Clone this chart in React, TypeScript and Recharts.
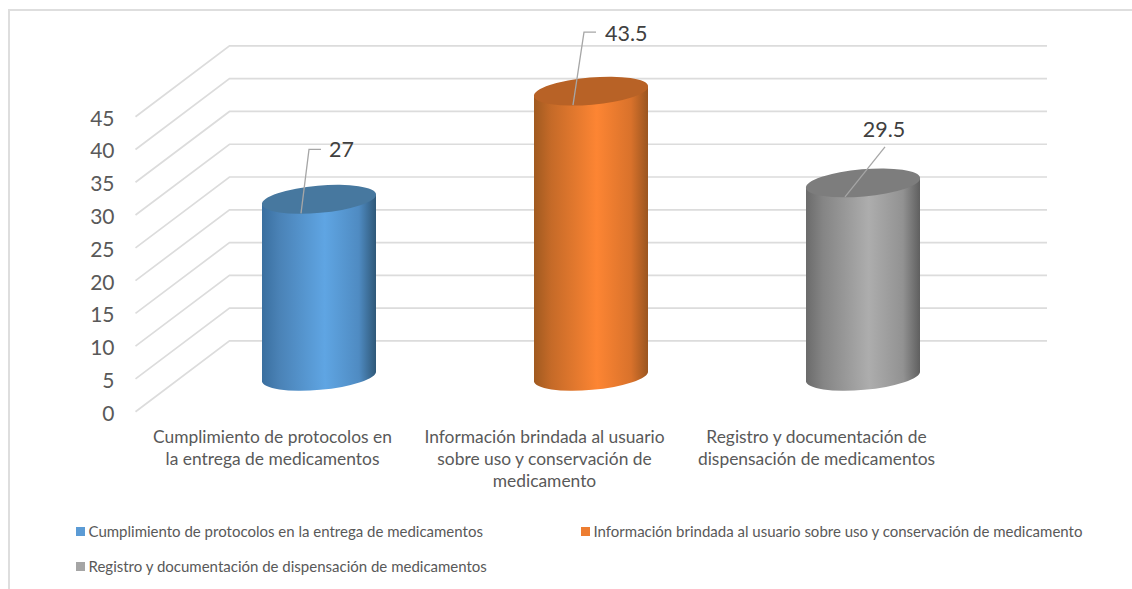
import React from "react";
import {
  Bar,
  BarChart,
  CartesianGrid,
  LabelList,
  Legend,
  XAxis,
  YAxis,
} from "recharts";

const categories = [
  "Cumplimiento de protocolos en la entrega de medicamentos",
  "Información brindada al usuario sobre uso y conservación de medicamento",
  "Registro y documentación de dispensación de medicamentos",
];
const categoryLines = [
  ["Cumplimiento de protocolos en", "la entrega de medicamentos"],
  ["Información brindada al usuario", "sobre uso y conservación de", "medicamento"],
  ["Registro y documentación de", "dispensación de medicamentos"],
];
const values = [27, 43.5, 29.5];
const yTicks = [0, 5, 10, 15, 20, 25, 30, 35, 40, 45];

const rows = categories.map((name, i) => ({ name, value: values[i] }));

// Colours of each cylinder: side gradient stops, lid, legend swatch.
const palettes = [
  { id: "cylBlue", stops: ["#3a6f9f", "#4a82b6", "#5fa5e3", "#4f8bc2", "#2f5878"], lid: "#47789f", swatch: "#5b9bd5" },
  { id: "cylOrange", stops: ["#a05a20", "#c56a28", "#fd8533", "#d9722b", "#9a5520"], lid: "#b86226", swatch: "#ed7d31" },
  { id: "cylGray", stops: ["#6b6b6b", "#858585", "#adadad", "#929292", "#5f5f5f"], lid: "#7d7d7d", swatch: "#a5a5a5" },
];
const stopOffsets = ["0%", "15%", "55%", "85%", "100%"];

// Leader offsets from the lid centre: foot, elbow, end and text anchor.
const callouts = [
  { foot: [-18, 14], elbow: [-10, -50], end: [2, -50], text: [10, -50], anchor: "start" },
  { foot: [-18, 14], elbow: [-7, -59], end: [5, -59], text: [14, -58], anchor: "start" },
  { foot: [-18, 14], elbow: [22, -36], end: [22, -36], text: [21, -54], anchor: "middle" },
];

// Depth of the 3D floor, relative to the plane holding the cylinders.
const FRONT = { dx: -47.5, dy: 35.4 };
const BACK = { dx: 46.5, dy: -35.4 };
const WALL_RIGHT = 1047;
const INK = "#595959";
const FONT = "Lato, sans-serif";

function GridLine(props: any) {
  const { x1, y1 } = props;
  return (
    <polyline
      key={props.key}
      points={`${x1 + FRONT.dx},${y1 + FRONT.dy} ${x1 + BACK.dx},${y1 + BACK.dy} ${WALL_RIGHT},${y1 + BACK.dy}`}
      fill="none"
      stroke="#dcdcdc"
      strokeWidth={1.7}
    />
  );
}

function Cylinder(props: any) {
  const { x, y, width, height, index } = props;
  const p = palettes[index];
  const cx = x + width / 2;
  const a = width / 2;
  const b = 13.6;
  const tilt = -5;
  const dy = 5;
  const bottom = y + height;
  const wall = [
    [cx - a, y + dy],
    [cx - a, bottom + dy],
    [cx + a, bottom - dy],
    [cx + a, y - dy],
  ]
    .map((pt) => pt.join(","))
    .join(" ");
  return (
    <g>
      <ellipse
        cx={cx}
        cy={bottom}
        rx={a + 0.3}
        ry={b}
        fill={`url(#${p.id})`}
        transform={`rotate(${tilt} ${cx} ${bottom})`}
      />
      <polygon points={wall} fill={`url(#${p.id})`} />
      <ellipse
        cx={cx}
        cy={y}
        rx={a + 0.3}
        ry={b}
        fill={p.lid}
        transform={`rotate(${tilt} ${cx} ${y})`}
      />
    </g>
  );
}

function Callout(props: any) {
  const { x, y, width, value, index } = props;
  const c = callouts[index];
  const cx = x + width / 2;
  const pts = [c.foot, c.elbow, c.end].map(([dx, dy]) => `${cx + dx},${y + dy}`).join(" ");
  return (
    <g>
      <polyline points={pts} fill="none" stroke="#a6a6a6" strokeWidth={1.3} />
      <text
        x={cx + c.text[0]}
        y={y + c.text[1]}
        textAnchor={c.anchor}
        dominantBaseline="central"
        fontFamily={FONT}
        fontSize={21.5}
        fill="#404040"
      >
        {value}
      </text>
    </g>
  );
}

function ValueTick(props: any) {
  const { y, payload } = props;
  return (
    <text
      x={114.5}
      y={y + FRONT.dy + 0.5}
      textAnchor="end"
      dominantBaseline="central"
      fontFamily={FONT}
      fontSize={21}
      fill={INK}
    >
      {payload.value}
    </text>
  );
}

function CategoryTick(props: any) {
  const { x, index } = props;
  return (
    <text textAnchor="middle" fontFamily={FONT} fontSize={17.4} fill={INK}>
      {categoryLines[index].map((line, i) => (
        <tspan key={line} x={x + FRONT.dx + 1} y={443 + i * 22}>
          {line}
        </tspan>
      ))}
    </text>
  );
}

function ChartKey() {
  const slots = [
    { left: 76, top: 522 },
    { left: 581, top: 522 },
    { left: 76, top: 557 },
  ];
  return (
    <div>
      {categories.map((name, i) => (
        <div
          key={name}
          style={{
            position: "absolute",
            left: slots[i].left,
            top: slots[i].top,
            height: 18,
            display: "flex",
            alignItems: "center",
            whiteSpace: "nowrap",
            fontFamily: FONT,
            fontSize: 15,
            color: INK,
          }}
        >
          <span
            style={{
              width: 9,
              height: 9,
              marginRight: 3.5,
              background: palettes[i].swatch,
            }}
          />
          {name}
        </div>
      ))}
    </div>
  );
}

export default function App() {
  return (
    <div
      style={{
        position: "absolute",
        left: 0,
        top: 0,
        width: 1132,
        height: 589,
        overflow: "hidden",
        background: "#fff",
      }}
    >
      <div
        style={{
          position: "absolute",
          left: 8,
          top: 9,
          width: 1200,
          height: 700,
          border: "2px solid #dedede",
          boxSizing: "border-box",
        }}
      />
      <BarChart
        width={1132}
        height={589}
        data={rows}
        margin={{ top: 81.3, right: 133, bottom: 152.7, left: 123 }}
        barSize={114}
        style={{ position: "absolute", left: 0, top: 0 }}
      >
        <defs>
          {palettes.map((p) => (
            <linearGradient key={p.id} id={p.id} x1="0" y1="0" x2="1" y2="0">
              {p.stops.map((color, i) => (
                <stop key={stopOffsets[i]} offset={stopOffsets[i]} stopColor={color} />
              ))}
            </linearGradient>
          ))}
        </defs>
        <CartesianGrid vertical={false} horizontal={GridLine} />
        <XAxis
          dataKey="name"
          axisLine={false}
          tickLine={false}
          height={60}
          interval={0}
          tick={CategoryTick}
        />
        <YAxis
          width={60}
          domain={[0, 45]}
          ticks={yTicks}
          axisLine={false}
          tickLine={false}
          tick={ValueTick}
        />
        <Legend
          verticalAlign="middle"
          wrapperStyle={{ left: 0, top: 0, width: 0, height: 0 }}
          content={<ChartKey />}
        />
        <Bar dataKey="value" shape={Cylinder} isAnimationActive={false}>
          <LabelList dataKey="value" content={Callout} />
        </Bar>
      </BarChart>
    </div>
  );
}
